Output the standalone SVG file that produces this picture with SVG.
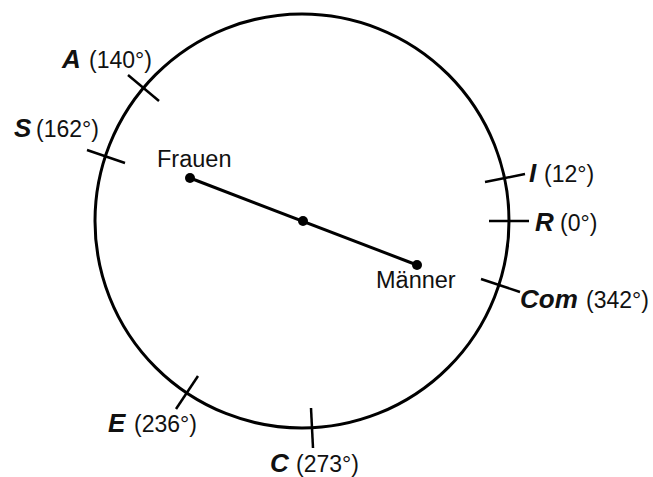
<svg xmlns="http://www.w3.org/2000/svg" width="653" height="477" viewBox="0 0 653 477">
<style>
  text { font-family: "Liberation Sans", Arial, sans-serif; font-size: 23px; fill: #111; }
  .b { font-weight: bold; font-style: italic; font-size: 26px; }
  .t { stroke: #000; stroke-width: 2.5; fill: none; }
  .circ { stroke: #000; stroke-width: 3; fill: none; }
  .lbl { font-size: 23.5px; }
</style>
<rect width="653" height="477" fill="#fff"/>
<g id="circle"><circle class="circ" cx="302" cy="221" r="207"/></g>
<g id="connectors">
  <line x1="190" y1="178" x2="417" y2="265" stroke="#000" stroke-width="3"/>
</g>
<g id="frauen">
  <circle cx="190" cy="178" r="5"/>
  <text class="lbl" x="157" y="167">Frauen</text>
</g>
<g id="mitte"><circle cx="303" cy="221" r="5"/></g>
<g id="maenner">
  <circle cx="417" cy="265" r="5"/>
  <text class="lbl" x="376" y="288">Männer</text>
</g>
<g id="R">
  <line class="t" x1="489" y1="221" x2="529" y2="221"/>
  <text x="535" y="231"><tspan class="b">R</tspan><tspan x="560">(0°)</tspan></text>
</g>
<g id="I">
  <line class="t" x1="485" y1="182" x2="525" y2="174"/>
  <text x="529" y="182"><tspan class="b">I</tspan><tspan x="544">(12°)</tspan></text>
</g>
<g id="Com">
  <line class="t" x1="481" y1="279" x2="520" y2="292"/>
  <text x="520" y="308"><tspan class="b">Com</tspan><tspan x="586">(342°)</tspan></text>
</g>
<g id="A">
  <line class="t" x1="159" y1="101" x2="128" y2="75"/>
  <text x="62" y="68"><tspan class="b">A</tspan><tspan x="89">(140°)</tspan></text>
</g>
<g id="S">
  <line class="t" x1="125" y1="163" x2="87" y2="150"/>
  <text x="14" y="137"><tspan class="b">S</tspan><tspan x="36">(162°)</tspan></text>
</g>
<g id="E">
  <line class="t" x1="198" y1="376" x2="176" y2="409"/>
  <text x="108" y="432"><tspan class="b">E</tspan><tspan x="134">(236°)</tspan></text>
</g>
<g id="C">
  <line class="t" x1="311" y1="408" x2="313" y2="448"/>
  <text x="270" y="472"><tspan class="b">C</tspan><tspan x="296">(273°)</tspan></text>
</g>
</svg>
